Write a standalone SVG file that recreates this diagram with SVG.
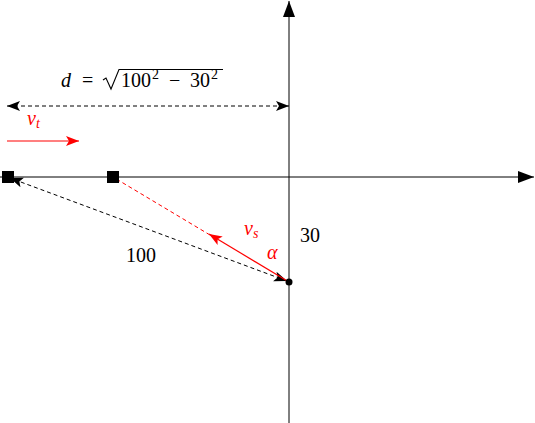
<svg xmlns="http://www.w3.org/2000/svg" width="535" height="423" viewBox="0 0 535 423">
<style>
.ax{stroke:#000;stroke-width:1;fill:none}
.dash{stroke:#000;stroke-width:1;stroke-dasharray:4,3;fill:none}
.rdash{stroke:#f00;stroke-width:1;stroke-dasharray:4,3;fill:none}
.red{stroke:#f00;stroke-width:1.2;fill:none}
text{font-family:'Liberation Serif','DejaVu Serif',serif;font-size:20px;fill:#000}
.it{font-style:italic}
.rt{fill:#f00}
.sub{font-size:14px}
</style>
<defs>
<marker id="abs" markerWidth="14" markerHeight="12" refX="13" refY="6" orient="auto-start-reverse" markerUnits="userSpaceOnUse">
<path d="M0,1 L13,6 L0,11 L3,6 Z" fill="#000"/>
</marker>
<marker id="ar" markerWidth="14" markerHeight="12" refX="13" refY="6" orient="auto" markerUnits="userSpaceOnUse">
<path d="M0,1 L13,6 L0,11 L3,6 Z" fill="#f00"/>
</marker>
<marker id="axm" markerWidth="17" markerHeight="14" refX="16" refY="7" orient="auto" markerUnits="userSpaceOnUse">
<path d="M0,1 L16,7 L0,13 Z" fill="#000"/>
</marker>
</defs>
<g id="connectors">
<line id="x-axis" class="ax" x1="0" y1="177" x2="534" y2="177" marker-end="url(#axm)"/>
<line id="y-axis" class="ax" x1="289" y1="423" x2="289" y2="1" stroke="#555" marker-end="url(#axm)"/>
<line id="d-line" class="dash" x1="7" y1="106" x2="289" y2="106" marker-start="url(#abs)" marker-end="url(#abs)"/>
<line id="vt-arrow" class="red" x1="7" y1="141" x2="79" y2="141" marker-end="url(#ar)"/>
<line id="dist100" class="dash" x1="287" y1="281" x2="10" y2="178" marker-start="url(#abs)" marker-end="url(#abs)"/>
<line id="vs-dash" class="rdash" x1="210" y1="235" x2="113" y2="177"/>
<line id="vs-arrow" class="red" x1="289" y1="282" x2="209" y2="234" marker-end="url(#ar)"/>
</g>
<g id="square-left"><rect x="2" y="171" width="12" height="12" fill="#000"/></g>
<g id="square-right"><rect x="107" y="171" width="12" height="12" fill="#000"/></g>
<g id="point"><circle cx="289" cy="282" r="3.5" fill="#000"/></g>
<g id="label-d">
<text class="it" x="61" y="87">d</text>
<text x="82" y="87">=</text>
<path d="M103,80 L106,78 L111,89 L119,69.5 L223,69.5" stroke="#000" stroke-width="1.1" fill="none"/>
<text x="121" y="87">100</text>
<text class="sub" x="152" y="79">2</text>
<text x="169" y="87">−</text>
<text x="190" y="87">30</text>
<text class="sub" x="211" y="79">2</text>
</g>
<g id="label-vt"><text class="it rt" x="27" y="125">v<tspan class="sub" dy="3">t</tspan></text></g>
<g id="label-100"><text x="126" y="262">100</text></g>
<g id="label-30"><text x="300" y="242">30</text></g>
<g id="label-vs"><text class="it rt" x="244" y="235">v<tspan class="sub" dy="3">s</tspan></text></g>
<g id="label-alpha"><text class="it rt" x="267" y="259">α</text></g>
</svg>
